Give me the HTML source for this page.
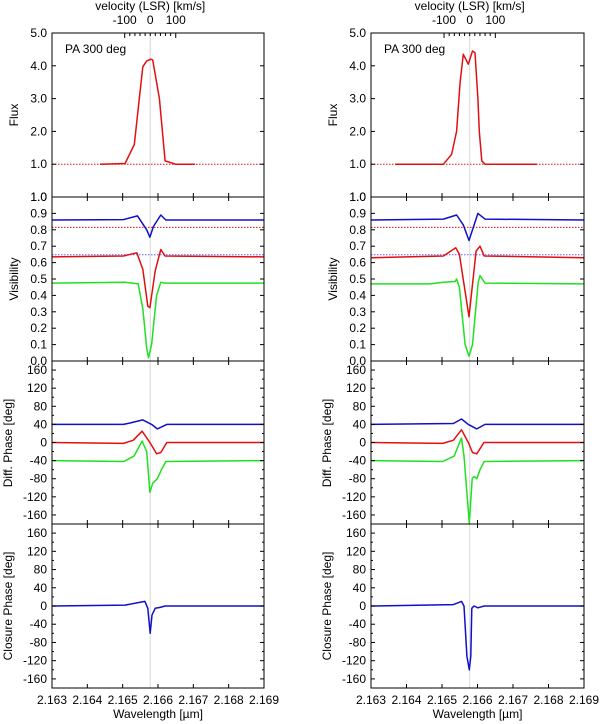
<!DOCTYPE html>
<html><head><meta charset="utf-8">
<style>
html,body{margin:0;padding:0;background:#fff;}
svg{display:block;font-family:"Liberation Sans",Arial,sans-serif;}
</style></head>
<body>
<svg id="fig" width="600" height="724" viewBox="0 0 600 724" xmlns="http://www.w3.org/2000/svg"></svg>
<script>
// ---------- data: left column ----------
const L_fluxWl   = [2.16436,2.16507,2.16533,2.16557,2.16568,2.1658,2.16585,2.16604,2.1662,2.1665,2.16705];
const L_fluxVal  = [1.0,1.02,1.6,3.97,4.15,4.2,4.18,3.0,1.1,1.0,1.0];
const L_visBWl   = [2.163,2.16502,2.16542,2.16568,2.16577,2.16587,2.16608,2.16622,2.169];
const L_visBVal  = [0.86,0.862,0.885,0.80,0.755,0.82,0.89,0.86,0.86];
const L_visRWl   = [2.163,2.16502,2.1654,2.16557,2.16571,2.16577,2.16592,2.16608,2.1662,2.169];
const L_visRVal  = [0.635,0.64,0.66,0.56,0.335,0.325,0.55,0.68,0.64,0.635];
const L_visGWl   = [2.163,2.16507,2.16544,2.16557,2.16568,2.16573,2.16582,2.16596,2.16608,2.1662,2.169];
const L_visGVal  = [0.475,0.48,0.47,0.32,0.08,0.02,0.1,0.4,0.48,0.475,0.475];
const L_dpBWl    = [2.163,2.16502,2.16521,2.16557,2.16582,2.16598,2.16625,2.169];
const L_dpBVal   = [40,40,43,50,40,30,40,40];
const L_dpRWl    = [2.163,2.16502,2.1653,2.16555,2.16577,2.16596,2.16608,2.16625,2.169];
const L_dpRVal   = [0,-2,5,25,0,-25,-22,0,0];
const L_dpGWl    = [2.163,2.16503,2.16532,2.16555,2.16568,2.16577,2.16585,2.16598,2.1661,2.16622,2.169];
const L_dpGVal   = [-40,-42,-30,3,-20,-110,-90,-80,-60,-42,-40];
const L_cpWl     = [2.163,2.16507,2.16563,2.16571,2.16578,2.16583,2.16592,2.16606,2.1662,2.169];
const L_cpVal    = [0,2,10,-5,-60,-20,-5,-3,0,0];
// ---------- data: right column ----------
const R_fluxWl   = [2.16368,2.16504,2.16527,2.16541,2.16551,2.1656,2.16574,2.16586,2.16593,2.16601,2.16605,2.16612,2.16621,2.16767];
const R_fluxVal  = [1.0,1.0,1.3,2.0,3.5,4.35,4.05,4.45,4.4,3.0,2.0,1.1,1.0,1.0];
const R_visBWl   = [2.163,2.16504,2.16541,2.1656,2.16576,2.16601,2.16621,2.169];
const R_visBVal  = [0.86,0.865,0.89,0.83,0.735,0.9,0.865,0.86];
const R_visRWl   = [2.163,2.16504,2.16539,2.16549,2.16576,2.16596,2.16607,2.16619,2.169];
const R_visRVal  = [0.63,0.64,0.69,0.65,0.27,0.67,0.70,0.64,0.63];
const R_visGWl   = [2.163,2.16466,2.16504,2.16537,2.16541,2.16549,2.16565,2.16576,2.16586,2.16602,2.16607,2.16621,2.169];
const R_visGVal  = [0.47,0.47,0.48,0.485,0.5,0.45,0.1,0.03,0.1,0.48,0.52,0.475,0.47];
const R_dpBWl    = [2.163,2.16532,2.16555,2.16574,2.16598,2.16621,2.169];
const R_dpBVal   = [40,42,52,40,30,40,40];
const R_dpRWl    = [2.163,2.16502,2.16532,2.16555,2.16574,2.16586,2.16598,2.16618,2.169];
const R_dpRVal   = [0,-2,5,28,0,-22,-25,0,0];
const R_dpGWl    = [2.163,2.16502,2.16534,2.16555,2.16562,2.16577,2.16585,2.1659,2.16598,2.16607,2.16619,2.169];
const R_dpGVal   = [-40,-42,-30,10,-30,-178,-80,-75,-80,-60,-42,-40];
const R_cpWl     = [2.163,2.16532,2.16555,2.16562,2.1657,2.16577,2.16581,2.16584,2.1659,2.16601,2.16619,2.169];
const R_cpVal    = [0,3,10,0,-110,-140,-110,-5,0,-4,0,0];
// ---------- axes data ----------
const xTicks      = [2.163,2.164,2.165,2.166,2.167,2.168,2.169];
const fluxTicks   = [0,1,2,3,4,5];
const fluxLabels  = ["1.0","1.0","2.0","3.0","4.0","5.0"];
const visTicks    = [0,0.1,0.2,0.3,0.4,0.5,0.6,0.7,0.8,0.9,1.0];
const phaseTicks  = [-160,-120,-80,-40,0,40,80,120,160];
const velMinor    = [-100,-80,-60,-40,-20,0,20,40,60,80,100];
const velLabels   = [-100,0,100];
const lineCenter  = 2.16578;
const refVisRed = 0.815, refVisBlue = 0.648, refVisGreen = 0.475;

const NS="http://www.w3.org/2000/svg";
const svg=document.getElementById('fig');
function mk(tag,attrs,parent){const e=document.createElementNS(NS,tag);for(const k in attrs)e.setAttribute(k,attrs[k]);(parent||svg).appendChild(e);return e;}
function txt(s,x,y,anchor,parent,rot){const t=mk('text',{x:x,y:y,'font-size':12,'text-anchor':anchor||'middle',fill:'#000'},parent);if(rot)t.setAttribute('transform','rotate(-90 '+x+' '+y+')');t.textContent=s;return t;}

const RED='#e01010',BLUE='#1010c8',GREEN='#20e020';
const panels=[{y0:33,y1:197},{y0:197,y1:361},{y0:361,y1:524},{y0:524,y1:688}];

function column(x0,x1,D,name){
  const g=mk('g',{});
  
  
  const X=w=>x0+(w-2.163)/0.006*(x1-x0);
  const Yf=v=>panels[0].y1-v/5*(panels[0].y1-panels[0].y0);
  const Yv=v=>panels[1].y1-v*(panels[1].y1-panels[1].y0);
  const Yp=(k,v)=>{const P=panels[k];return (P.y0+P.y1)/2-v/360*(P.y1-P.y0);};
  const Yd=v=>Yp(2,v), Yc=v=>Yp(3,v);
  const cl=mk('line',{x1:X(lineCenter),x2:X(lineCenter),y1:panels[0].y0,y2:panels[3].y1,stroke:'#d8d8d8','stroke-width':1},g);
  
  
  function series(wl,val,Y,col,nm){
    const pts=wl.map((w,i)=>X(w).toFixed(1)+','+Y(val[i]).toFixed(1)).join(' ');
    const p=mk('polyline',{points:pts,fill:'none',stroke:col,'stroke-width':1.5,'stroke-linejoin':'round'},g);
    
    
  }
  function ref(y,col,nm){
    const l=mk('line',{x1:x0,x2:x1,y1:y,y2:y,stroke:col,'stroke-width':1,'stroke-dasharray':'1.5,1.5'},g);
    
    
  }
  ref(Yf(1),RED,'flux-continuum-ref');
  ref(Yv(refVisRed),RED,'vis-ref-red');
  ref(Yv(refVisBlue),'#6060f0','vis-ref-blue');
  series(D.fluxWl,D.fluxVal,Yf,RED,'flux-line');
  series(D.visBWl,D.visBVal,Yv,BLUE,'visibility-blue');
  series(D.visRWl,D.visRVal,Yv,RED,'visibility-red');
  series(D.visGWl,D.visGVal,Yv,GREEN,'visibility-green');
  series(D.dpBWl,D.dpBVal,Yd,BLUE,'diff-phase-blue');
  series(D.dpRWl,D.dpRVal,Yd,RED,'diff-phase-red');
  series(D.dpGWl,D.dpGVal,Yd,GREEN,'diff-phase-green');
  series(D.cpWl,D.cpVal,Yc,BLUE,'closure-phase-blue');
  panels.forEach((P,k)=>{
    const r=mk('rect',{x:x0,y:P.y0,width:x1-x0,height:P.y1-P.y0,fill:'none',stroke:'#000','stroke-width':1},g);
    
    
    xTicks.forEach(w=>{
      mk('line',{x1:X(w),x2:X(w),y1:P.y1,y2:P.y1-4,stroke:'#000'},g);
      if(k>0) mk('line',{x1:X(w),x2:X(w),y1:P.y0,y2:P.y0+4,stroke:'#000'},g);
    });
  });
  fluxTicks.forEach((v,i)=>{
    mk('line',{x1:x0,x2:x0+4,y1:Yf(v),y2:Yf(v),stroke:'#000'},g);
    mk('line',{x1:x1,x2:x1-4,y1:Yf(v),y2:Yf(v),stroke:'#000'},g);
    const t=txt(fluxLabels[i],x0-5,Yf(v)+4,'end',g);
    
    
  });
  visTicks.forEach(v=>{
    mk('line',{x1:x0,x2:x0+4,y1:Yv(v),y2:Yv(v),stroke:'#000'},g);
    mk('line',{x1:x1,x2:x1-4,y1:Yv(v),y2:Yv(v),stroke:'#000'},g);
    const t=txt(v.toFixed(1),x0-5,Yv(v)+4,'end',g);
    
    
  });
  [Yd,Yc].forEach(Y=>{
    for(let v=-180;v<=180;v+=20){mk('line',{x1:x0,x2:x0+(v%40===0?4:2),y1:Y(v),y2:Y(v),stroke:'#000'},g);mk('line',{x1:x1,x2:x1-(v%40===0?4:2),y1:Y(v),y2:Y(v),stroke:'#000'},g);}
    phaseTicks.forEach(v=>{
      const t=txt(String(v),x0-5,Y(v)+4,'end',g);
      
      
    });
  });
  xTicks.forEach(w=>{
    const t=txt(w.toFixed(3),X(w),704,'middle',g);
    
    
  });
  const xt=txt('Wavelength [\u00b5m]',(x0+x1)/2,718,'middle',g);
  
  
  const V=v=>X(lineCenter+v/299792.458*lineCenter);
  velMinor.forEach(v=>{mk('line',{x1:V(v),x2:V(v),y1:33,y2:(Math.abs(v)===100?38:36),stroke:'#000'},g);});
  velLabels.forEach(v=>{
    const t=txt(String(v),V(v),24,'middle',g);
    
    
  });
  const vt=txt('velocity (LSR) [km/s]',V(0),10,'middle',g);
  
  
  const pa=txt('PA 300 deg',x0+13,53,'start',g);
  
  
  const yt=[['Flux',x0-34,115],['Visibility',x0-34,279],['Diff. Phase [deg]',x0-40,443],['Closure Phase [deg]',x0-40,606]];
  yt.forEach(a=>{
    const t=txt(a[0],a[1],a[2],'middle',g,true);
    
    
  });
}
column(52,264,{fluxWl:L_fluxWl,fluxVal:L_fluxVal,visBWl:L_visBWl,visBVal:L_visBVal,visRWl:L_visRWl,visRVal:L_visRVal,visGWl:L_visGWl,visGVal:L_visGVal,dpBWl:L_dpBWl,dpBVal:L_dpBVal,dpRWl:L_dpRWl,dpRVal:L_dpRVal,dpGWl:L_dpGWl,dpGVal:L_dpGVal,cpWl:L_cpWl,cpVal:L_cpVal},'left-column');
column(371,584,{fluxWl:R_fluxWl,fluxVal:R_fluxVal,visBWl:R_visBWl,visBVal:R_visBVal,visRWl:R_visRWl,visRVal:R_visRVal,visGWl:R_visGWl,visGVal:R_visGVal,dpBWl:R_dpBWl,dpBVal:R_dpBVal,dpRWl:R_dpRWl,dpRVal:R_dpRVal,dpGWl:R_dpGWl,dpGVal:R_dpGVal,cpWl:R_cpWl,cpVal:R_cpVal},'right-column');
</script>
</body></html>
